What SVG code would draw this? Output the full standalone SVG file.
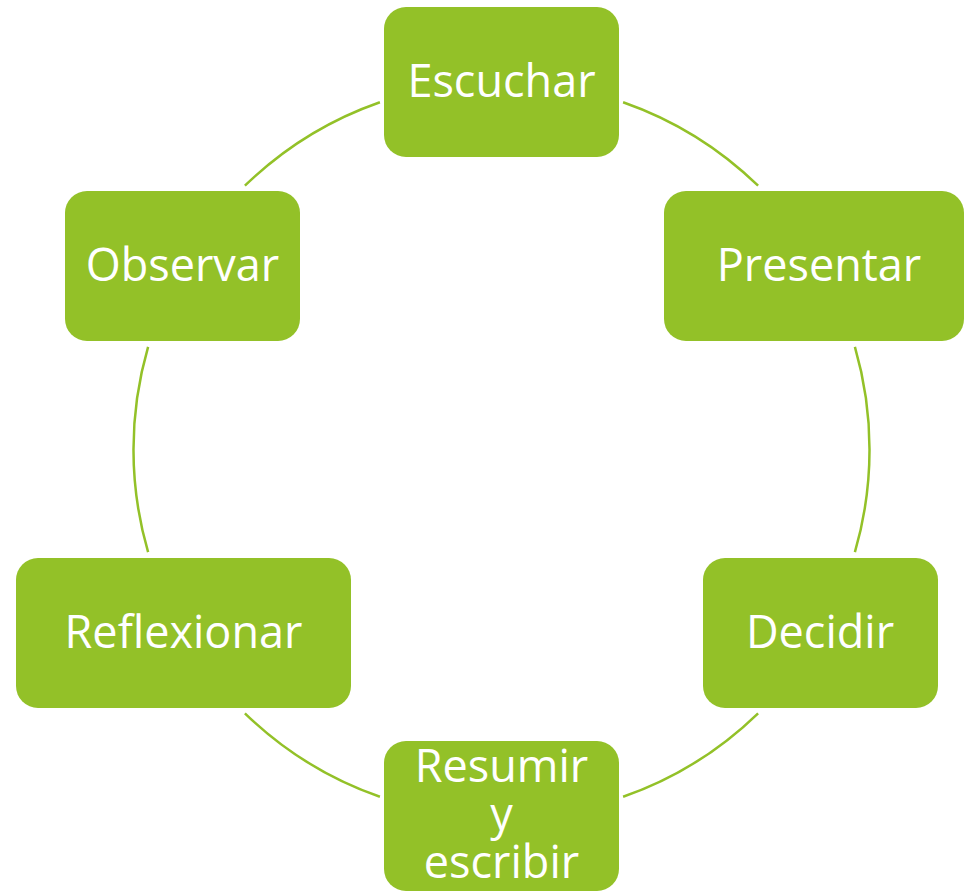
<svg xmlns="http://www.w3.org/2000/svg" width="964" height="891" viewBox="0 0 964 891">
<style>
.box{fill:#93C128;}
.lbl{font-family:"Open Sans","DejaVu Sans",sans-serif;font-size:45px;fill:#ffffff;text-anchor:middle;}
.arc{fill:none;stroke:#93C128;stroke-width:2.5;}
</style>
<rect width="964" height="891" fill="#ffffff"/>
<g id="connectors">
<path class="arc" d="M 623.1 102.2 A 368 368 0 0 1 758.1 185.7"/>
<path class="arc" d="M 854.9 346.8 A 368 368 0 0 1 854.9 552.2"/>
<path class="arc" d="M 758.1 713.3 A 368 368 0 0 1 623.1 796.8"/>
<path class="arc" d="M 379.9 796.8 A 368 368 0 0 1 244.9 713.3"/>
<path class="arc" d="M 148.1 552.2 A 368 368 0 0 1 148.1 346.8"/>
<path class="arc" d="M 244.9 185.7 A 368 368 0 0 1 379.9 102.2"/>
</g>
<g id="escuchar">
<rect class="box" x="384" y="7" width="235" height="150" rx="22"/>
<text class="lbl" x="501.5" y="97">Escuchar</text>
</g>
<g id="presentar">
<rect class="box" x="664" y="191" width="300" height="150" rx="22"/>
<text class="lbl" x="819" y="281">Presentar</text>
</g>
<g id="decidir">
<rect class="box" x="703" y="558" width="235" height="150" rx="22"/>
<text class="lbl" x="820" y="648">Decidir</text>
</g>
<g id="resumir">
<rect class="box" x="384" y="741" width="235" height="150" rx="22"/>
<text class="lbl" x="501.5" y="782">Resumir</text>
<text class="lbl" x="501.5" y="830">y</text>
<text class="lbl" x="501.5" y="878">escribir</text>
</g>
<g id="reflexionar">
<rect class="box" x="16" y="558" width="335" height="150" rx="22"/>
<text class="lbl" x="183.5" y="648">Reflexionar</text>
</g>
<g id="observar">
<rect class="box" x="65" y="191" width="235" height="150" rx="22"/>
<text class="lbl" x="182.5" y="281">Observar</text>
</g>
</svg>
